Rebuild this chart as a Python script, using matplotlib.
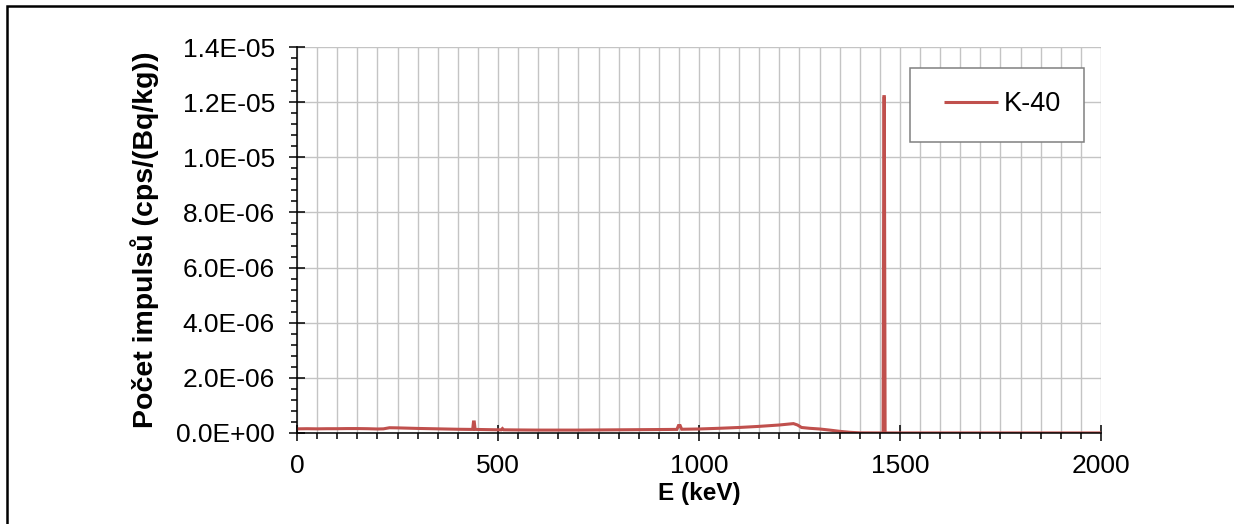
import matplotlib
matplotlib.use("Agg")
import matplotlib.pyplot as plt
from matplotlib.ticker import MultipleLocator, FuncFormatter
from matplotlib.patches import Rectangle

plt.rcParams['font.family'] = ['Liberation Sans', 'DejaVu Sans']

# K-40 response spectrum, counts per activity concentration
energy_kev = [0, 25, 50, 75, 100, 125, 150, 175, 200, 215, 230, 250, 275, 300,
              350, 400, 430, 437, 439, 441, 443, 460, 500, 508, 511, 514, 550,
              600, 650, 700, 750, 800, 850, 900, 945, 949, 953, 957, 1000, 1050,
              1100, 1150, 1200, 1235, 1245, 1255, 1275, 1300, 1325, 1350, 1375,
              1400, 1450, 1458, 1460, 1461, 1463, 1500, 1600, 1700, 1800, 1900,
              2000]
counts_k40 = [1.50e-7, 1.55e-7, 1.50e-7, 1.55e-7, 1.55e-7, 1.60e-7, 1.60e-7,
              1.55e-7, 1.45e-7, 1.50e-7, 1.90e-7, 1.85e-7, 1.75e-7, 1.65e-7,
              1.50e-7, 1.35e-7, 1.30e-7, 1.30e-7, 4.00e-7, 4.00e-7, 1.30e-7,
              1.25e-7, 1.15e-7, 1.15e-7, 1.60e-7, 1.15e-7, 1.10e-7, 1.05e-7,
              1.05e-7, 1.05e-7, 1.10e-7, 1.15e-7, 1.20e-7, 1.25e-7, 1.30e-7,
              2.70e-7, 2.70e-7, 1.35e-7, 1.45e-7, 1.70e-7, 2.00e-7, 2.40e-7,
              2.90e-7, 3.40e-7, 2.90e-7, 2.00e-7, 1.70e-7, 1.45e-7, 1.05e-7,
              0.60e-7, 0.25e-7, 0.05e-7, 0.02e-7, 0.02e-7, 1.22e-5, 1.22e-5,
              0.02e-7, 0.01e-7, 0.01e-7, 0.01e-7, 0.01e-7, 0.01e-7, 0.01e-7]

fig = plt.figure(figsize=(12.34, 5.24), dpi=100)
ax = fig.add_axes([0.2407, 0.1737, 0.6515, 0.7366])

ax.plot(energy_kev, counts_k40, color='#C0504D', lw=2.2, label='K-40',
        solid_joinstyle='miter', solid_capstyle='butt', zorder=3)

ax.set_xlim(0, 2000)
ax.set_ylim(0, 1.4e-5)
ax.xaxis.set_major_locator(MultipleLocator(500))
ax.xaxis.set_minor_locator(MultipleLocator(50))
ax.yaxis.set_major_locator(MultipleLocator(2e-6))
ax.yaxis.set_minor_locator(MultipleLocator(4e-7))
ax.yaxis.set_major_formatter(FuncFormatter(lambda v, p: f"{v:.1E}"))

# grid: every 50 keV vertically, only major lines horizontally
ax.grid(True, which='both', axis='x', color='#C4C4C4', lw=1.0, zorder=0)
ax.grid(True, which='major', axis='y', color='#C4C4C4', lw=1.0, zorder=0)
ax.set_axisbelow(True)

for s in ['top', 'right']:
    ax.spines[s].set_visible(False)
for s in ['left', 'bottom']:
    ax.spines[s].set_linewidth(1.1)
    ax.spines[s].set_zorder(4)

ax.tick_params(which='major', direction='inout', length=12, width=1.1,
               labelsize=19)
ax.tick_params(axis='x', which='major', pad=9)
ax.tick_params(axis='y', which='major', pad=10)
ax.tick_params(which='minor', direction='out', length=4.3, width=1.1)

ax.set_xlabel('E (keV)', fontsize=17.5, fontweight='bold', labelpad=3)
ax.set_ylabel('Počet impulsů (cps/(Bq/kg))', fontsize=20.5, fontweight='bold',
              labelpad=12)

# legend box drawn separately so the entry can sit off-centre
ax.add_patch(Rectangle((0.762, 0.755), 0.217, 0.191, transform=ax.transAxes,
                       facecolor='white', edgecolor='#808080', lw=1.1,
                       zorder=5))
leg = ax.legend(loc='center left', bbox_to_anchor=(0.8045, 0.852),
                fontsize=19.5, frameon=False, borderpad=0,
                handlelength=2.0, handletextpad=0.2, borderaxespad=0)
leg.set_zorder(6)

# outer chart border (only top and left fall inside the image)
fig.patches.append(Rectangle((6.5 / 1234, -0.5), 2.0, 0.5 + 1 - 6.3 / 524,
                             transform=fig.transFigure, fill=False,
                             edgecolor='black', lw=1.8))

fig.savefig('out.png', dpi=100)
